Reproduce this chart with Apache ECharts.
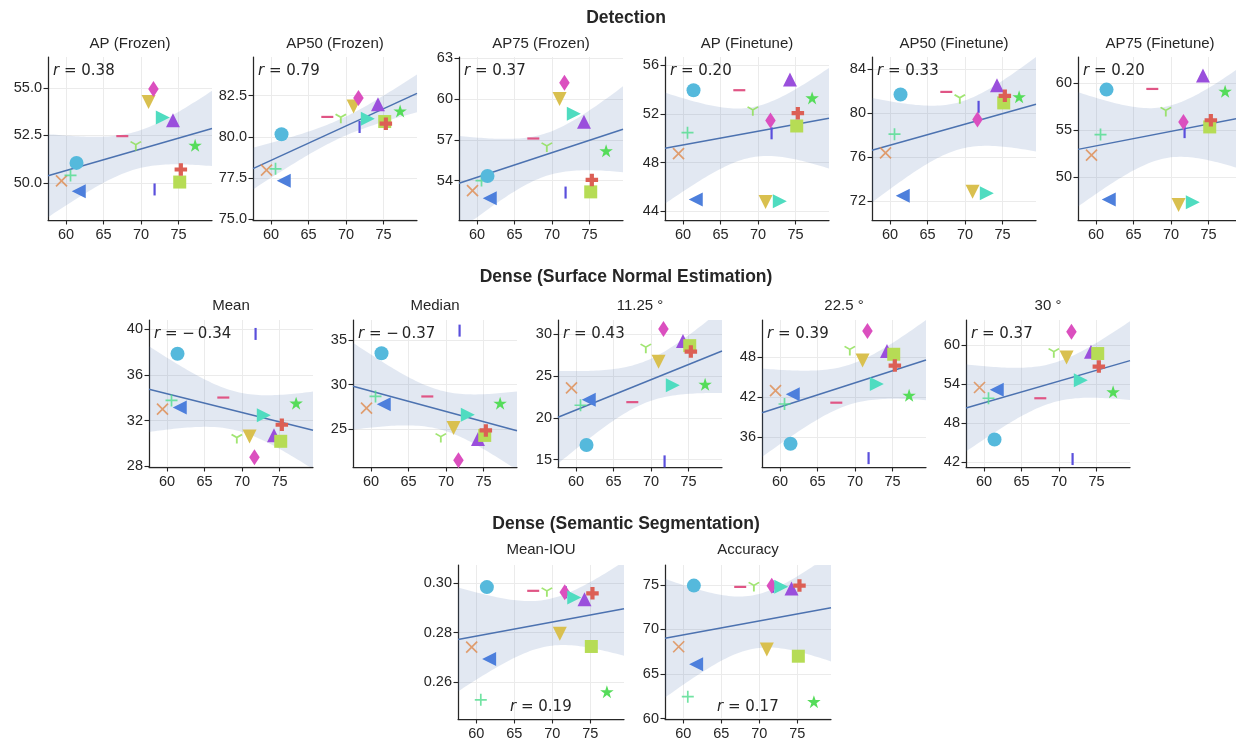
<!DOCTYPE html>
<html>
<head>
	<meta charset="utf-8">
</head>
<body style="margin: 0; background: #fff">
<div id="container" style="width: 1236px; height: 745px"></div>
<script src="https://cdn.jsdelivr.net/npm/echarts@6/dist/echarts.min.js"></script>
<script type="text/javascript">
	// one entry per method (same order everywhere)
	var methodX = [59.4, 60.6, 61.4, 61.7, 67.5, 69.3, 71.0, 71.8, 71.65, 72.9, 74.25, 75.15, 75.3, 77.2];
	var methodMarker = ['x', 'plus', 'circle', 'triL', 'hline', 'tri1', 'triD', 'vline', 'diamond', 'triR', 'triU', 'square', 'pplus', 'star'];
	var methodColor = ['#de8a4e', '#4fdc8c', '#55b9dc', '#4d7fdc', '#e05585', '#8ade4f', '#d9c04f', '#5a4fdc',
		'#db4fbf', '#4fdcc0', '#9a4fdc', '#b6dc55', '#dc5f55', '#55dc5a'];

	// detection
	var apFrozen     = [50.1, 50.39, 51.05, 49.55, 52.46, 51.93, 54.26, 49.65, 54.95, 53.44, 53.3, 50.04, 50.7, 51.98];
	var ap50Frozen   = [77.98, 78.06, 80.16, 77.34, 81.21, 81.1, 81.85, 80.6, 82.36, 81.1, 81.98, 80.93, 80.8, 81.57];
	var ap75Frozen   = [53.27, 54.0, 54.34, 52.7, 57.1, 56.44, 60.0, 53.12, 61.2, 58.93, 58.33, 53.17, 54.05, 56.2];
	var apFinetune   = [48.74, 50.45, 53.93, 44.97, 53.93, 52.2, 44.78, 50.4, 51.45, 44.84, 54.8, 51.0, 52.05, 53.3];
	var ap50Finetune = [76.39, 78.09, 81.7, 72.48, 81.94, 81.27, 72.85, 80.58, 79.42, 72.7, 82.55, 80.94, 81.58, 81.5];
	var ap75Finetune = [52.36, 54.54, 59.3, 47.68, 59.37, 56.94, 47.08, 54.8, 55.88, 47.39, 60.8, 55.35, 56.06, 59.12];
	// surface normals
	var normalMean   = [33.02, 33.78, 37.86, 33.17, 34.03, 30.4, 30.63, 39.6, 28.81, 32.47, 30.72, 30.2, 31.65, 33.54];
	var normalMedian = [27.33, 28.65, 33.53, 27.78, 28.65, 23.95, 25.08, 36.09, 21.43, 26.58, 23.83, 24.25, 24.81, 27.89];
	var normal1125   = [23.57, 21.5, 16.75, 22.14, 21.87, 28.25, 26.7, 14.8, 30.6, 23.89, 29.17, 28.61, 27.9, 24.0];
	var normal225    = [43.0, 41.0, 35.05, 42.45, 41.2, 48.95, 47.5, 32.9, 51.94, 43.99, 48.95, 48.45, 46.76, 42.3];
	var normal30     = [53.49, 51.84, 45.5, 53.13, 51.84, 58.77, 58.1, 42.5, 62.06, 54.62, 58.97, 58.71, 56.7, 52.82];
	// segmentation
	var segMiou = [0.2741, 0.2529, 0.2983, 0.2694, 0.2968, 0.2962, 0.2795, 0.2962, 0.2962, 0.2941, 0.2934, 0.2744, 0.2958, 0.2562];
	var segAcc  = [68.06, 62.46, 74.93, 66.1, 74.78, 74.78, 67.76, 74.8, 74.9, 74.8, 74.6, 67.0, 74.93, 61.9];

	// tick labels
	var xTicks = [60, 65, 70, 75];
	var ticksApFrozen = [50, 52.5, 55];
	var ticksAp50Frozen = [75, 77.5, 80, 82.5];
	var ticksAp75Frozen = [54, 57, 60, 63];
	var ticksApFinetune = [44, 48, 52, 56];
	var ticksAp50Finetune = [72, 76, 80, 84];
	var ticksAp75Finetune = [50, 55, 60];
	var ticksMean = [28, 32, 36, 40];
	var ticksMedian = [25, 30, 35];
	var ticks1125 = [15, 20, 25, 30];
	var ticks225 = [36, 42, 48];
	var ticks30 = [42, 48, 54, 60];
	var ticksMiou = [0.26, 0.28, 0.30];
	var ticksAcc = [60, 65, 70, 75];

	var FONT = 'Liberation Sans';
	var MATH_FONT = 'DejaVu Sans';
	var INK = '#262626';
	var X_MIN = 57.6, X_MAX = 79.45;

	var SYM = {
		x:       {symbol: 'path://M0,0L10,10M10,0L0,10', size: 11, stroke: true},
		plus:    {symbol: 'path://M5,0L5,10M0,5L10,5', size: 12, stroke: true},
		circle:  {symbol: 'circle', size: 14},
		triL:    {symbol: 'triangle', size: 14, rotate: 90},
		hline:   {symbol: 'rect', size: [12, 2.2]},
		tri1:    {symbol: 'path://M5,5L0.67,2.5M5,5L9.33,2.5M5,5L5,10', size: [10.5, 9], stroke: true},
		triD:    {symbol: 'triangle', size: 14, rotate: 180},
		vline:   {symbol: 'rect', size: [2.2, 12]},
		diamond: {symbol: 'diamond', size: [10.5, 16]},
		triR:    {symbol: 'triangle', size: 14, rotate: -90},
		triU:    {symbol: 'triangle', size: 14},
		square:  {symbol: 'rect', size: 13},
		pplus:   {symbol: 'path://M4,0H8V4H12V8H8V12H4V8H0V4H4Z', size: 12.5},
		star:    {symbol: 'path://M10,0L12.245,6.91L19.511,6.91L13.633,11.18L15.878,18.09L10,13.82L4.122,18.09L6.367,11.18L0.489,6.91L7.755,6.91Z', size: [13.5, 13]}
	};

	var panels = [
		{title: 'AP (Frozen)',     y: apFrozen,     ticks: ticksApFrozen,     dec: 1, min: 48.04, max: 56.63, r: '0.38', row: 0, col: 0},
		{title: 'AP50 (Frozen)',   y: ap50Frozen,   ticks: ticksAp50Frozen,   dec: 1, min: 74.95, max: 84.85, r: '0.79', row: 0, col: 1},
		{title: 'AP75 (Frozen)',   y: ap75Frozen,   ticks: ticksAp75Frozen,   dec: 0, min: 51.1,  max: 63.1,  r: '0.37', row: 0, col: 2},
		{title: 'AP (Finetune)',   y: apFinetune,   ticks: ticksApFinetune,   dec: 0, min: 43.3,  max: 56.65, r: '0.20', row: 0, col: 3},
		{title: 'AP50 (Finetune)', y: ap50Finetune, ticks: ticksAp50Finetune, dec: 0, min: 70.27, max: 85.12, r: '0.33', row: 0, col: 4},
		{title: 'AP75 (Finetune)', y: ap75Finetune, ticks: ticksAp75Finetune, dec: 0, min: 45.5,  max: 62.75, r: '0.20', row: 0, col: 5},
		{title: 'Mean',            y: normalMean,   ticks: ticksMean,         dec: 0, min: 27.95, max: 40.82, r: '\u2212\u20090.34', row: 1, col: 0},
		{title: 'Median',          y: normalMedian, ticks: ticksMedian,       dec: 0, min: 20.68, max: 37.29, r: '\u2212\u20090.37', row: 1, col: 1},
		{title: '11.25 \u00b0',    y: normal1125,   ticks: ticks1125,         dec: 0, min: 14.13, max: 31.67, r: '0.43', row: 1, col: 2},
		{title: '22.5 \u00b0',     y: normal225,    ticks: ticks225,          dec: 0, min: 31.57, max: 53.58, r: '0.39', row: 1, col: 3},
		{title: '30 \u00b0',       y: normal30,     ticks: ticks30,           dec: 0, min: 41.28, max: 63.86, r: '0.37', row: 1, col: 4},
		{title: 'Mean-IOU',        y: segMiou,      ticks: ticksMiou,         dec: 2, min: 0.2452, max: 0.3072, r: '0.19', row: 2, col: 0},
		{title: 'Accuracy',        y: segAcc,       ticks: ticksAcc,          dec: 0, min: 59.95, max: 77.24, r: '0.17', row: 2, col: 1}
	];

	var rows = [
		{header: 'Detection', headerY: 18, titleY: 44, top: 57, height: 163, width: 164, lefts: [48, 253, 459, 665, 872, 1078]},
		{header: 'Dense (Surface Normal Estimation)', headerY: 277, titleY: 306, top: 320, height: 147, width: 164, lefts: [149, 353, 558, 762, 966]},
		{header: 'Dense (Semantic Segmentation)', headerY: 524, titleY: 550, top: 565, height: 154, width: 166, lefts: [458, 665]}
	];

	function fit(xs, ys, lo, hi) {
		var n = xs.length, mx = 0, my = 0, sxx = 0, sxy = 0, sse = 0;
		for (var i = 0; i < n; i++) { mx += xs[i]; my += ys[i]; }
		mx /= n; my /= n;
		for (i = 0; i < n; i++) {
			sxx += (xs[i] - mx) * (xs[i] - mx);
			sxy += (xs[i] - mx) * (ys[i] - my);
		}
		var b = sxy / sxx, a = my - b * mx;
		for (i = 0; i < n; i++) {
			var e = ys[i] - (a + b * xs[i]);
			sse += e * e;
		}
		var s = Math.sqrt(sse / (n - 2)), t = 2.179;
		var upper = [], lower = [];
		for (var k = 0; k <= 60; k++) {
			var x = X_MIN + (X_MAX - X_MIN) * k / 60;
			var yh = a + b * x;
			var w = t * s * Math.sqrt(1 / n + (x - mx) * (x - mx) / sxx);
			upper.push([x, Math.min(yh + w, hi)]);
			lower.push([x, Math.max(yh - w, lo)]);
		}
		return {a: a, b: b, upper: upper, lower: lower};
	}

	function txt(x, y, text, size, weight, align, italic, family) {
		return {
			type: 'text', x: x, y: y, silent: true, z: 10,
			style: {
				text: text, fill: INK, fontSize: size, fontFamily: family || FONT,
				fontWeight: weight || 'normal', fontStyle: italic ? 'italic' : 'normal',
				textAlign: align || 'center', align: align || 'center',
				textVerticalAlign: 'middle', verticalAlign: 'middle'
			}
		};
	}

	var measure = document.createElement('canvas').getContext('2d');
	function textWidth(s, font) {
		measure.font = font;
		return measure.measureText(s).width;
	}

	var grids = [], xAxes = [], yAxes = [], series = [], graphics = [];
	rows.forEach(function (r) {
		graphics.push(txt(626, r.headerY, r.header, 17.5, 'bold'));
	});

	panels.forEach(function (p, i) {
		var row = rows[p.row];
		var left = row.lefts[p.col], top = row.top, w = row.width, h = row.height;
		grids.push({left: left, top: top, width: w, height: h, containLabel: false, outerBoundsMode: 'none'});
		var axisLine = {show: true, onZero: false, lineStyle: {color: INK, width: 1.25}};
		var tick = function (vals) { return {show: true, inside: false, length: 4.5, customValues: vals, lineStyle: {color: INK, width: 1.1}}; };
		xAxes.push({
			type: 'value', gridIndex: i, min: X_MIN, max: X_MAX,
			axisLine: axisLine, axisTick: tick(xTicks), splitLine: {show: false},
			axisLabel: {customValues: xTicks, margin: 7, color: INK, fontSize: 14.5, fontFamily: FONT, hideOverlap: false}
		});
		yAxes.push({
			type: 'value', gridIndex: i, min: p.min, max: p.max,
			axisLine: axisLine, axisTick: tick(p.ticks), splitLine: {show: false},
			axisLabel: {
				customValues: p.ticks, margin: 6, color: INK, fontSize: 14.5, fontFamily: FONT, hideOverlap: false,
				formatter: (function (d) { return function (v) { return Number(v).toFixed(d); }; })(p.dec)
			}
		});

		// grid lines only at the labelled ticks
		var gridLines = xTicks.map(function (v) { return {xAxis: v}; })
			.concat(p.ticks.map(function (v) { return {yAxis: v}; }));
		series.push({
			type: 'line', xAxisIndex: i, yAxisIndex: i, silent: true, z: 0, data: [],
			markLine: {
				z: 0, silent: true, symbol: ['none', 'none'], label: {show: false},
				lineStyle: {color: '#ebebeb', type: 'solid', width: 1},
				emphasis: {disabled: true}, animation: false,
				data: gridLines
			}
		});

		var f = fit(methodX, p.y, p.min, p.max);
		series.push({
			type: 'custom', xAxisIndex: i, yAxisIndex: i, silent: true, z: 1,
			data: [[X_MIN, p.min]],
			renderItem: (function (f) {
				return function (params, api) {
					var pts = [];
					f.upper.forEach(function (d) { pts.push(api.coord(d)); });
					f.lower.slice().reverse().forEach(function (d) { pts.push(api.coord(d)); });
					return {type: 'polygon', shape: {points: pts}, style: {fill: 'rgba(76,114,176,0.16)', stroke: null}};
				};
			})(f)
		});
		series.push({
			type: 'line', xAxisIndex: i, yAxisIndex: i, silent: true, z: 2,
			showSymbol: false, symbol: 'none',
			data: [[X_MIN, f.a + f.b * X_MIN], [X_MAX, f.a + f.b * X_MAX]],
			lineStyle: {color: '#4c72b0', width: 1.5}
		});
		var pts = methodX.map(function (x, k) {
			var s = SYM[methodMarker[k]], c = methodColor[k];
			return {
				value: [x, p.y[k]],
				symbol: s.symbol, symbolSize: s.size, symbolRotate: s.rotate || 0,
				itemStyle: s.stroke ? {color: 'rgba(0,0,0,0)', borderColor: c, borderWidth: 1.7}
					: {color: c, opacity: 1}
			};
		});
		series.push({
			type: 'scatter', xAxisIndex: i, yAxisIndex: i, silent: true, z: 3,
			data: pts, emphasis: {disabled: true}
		});

		graphics.push(txt(left + w / 2, row.titleY, p.title, 15));

		// "r = value" label, italic r then the rest (mathtext style)
		var rest = ' = ' + p.r;
		var rW = textWidth('r', 'italic 15px ' + MATH_FONT);
		var restW = textWidth(rest, '15px ' + MATH_FONT);
		var lx, ly;
		if (p.row === 2) {
			lx = Math.round(left + w / 2 - (rW + restW) / 2);
			ly = top + h - 12;
		} else {
			lx = left + 5;
			ly = top + 14;
		}
		graphics.push(txt(lx, ly, 'r', 15, 'normal', 'left', true, MATH_FONT));
		graphics.push(txt(lx + rW, ly, rest, 15, 'normal', 'left', false, MATH_FONT));
	});

	var dom = document.getElementById('container');
	var myChart = echarts.init(dom, null, {renderer: 'canvas'});
	var option = {
		animation: false,
		backgroundColor: '#ffffff',
		grid: grids,
		xAxis: xAxes,
		yAxis: yAxes,
		series: series,
		graphic: graphics
	};
	myChart.setOption(option);
</script>
</body>
</html>
